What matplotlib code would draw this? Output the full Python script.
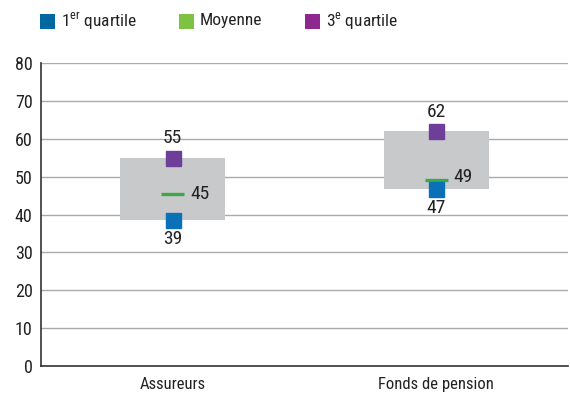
import matplotlib
matplotlib.use("Agg")
import matplotlib.pyplot as plt
from matplotlib import font_manager
from matplotlib.patches import Rectangle

entries = font_manager.fontManager.ttflist
names = {f.name for f in entries}
fam = "DejaVu Sans"
for cand in ["Liberation Sans Narrow", "Roboto Condensed", "Open Sans Condensed", "DejaVu Sans Condensed"]:
    if cand in names:
        fam = cand
        break
plt.rcParams['font.family'] = [fam, 'DejaVu Sans']

categories = ["Assureurs", "Fonds de pension"]
q1 = [38.6, 46.7]
mean = [45.3, 49.1]
q3 = [55.0, 62.0]
q1_labels = ["39", "47"]
mean_labels = ["45", "49"]
q3_labels = ["55", "62"]
yticks = [0, 10, 20, 30, 40, 50, 60, 70, 80]
legend_labels = ["1$^{\\mathregular{er}}$ quartile", "Moyenne", "3$^{\\mathregular{e}}$ quartile"]

c_blue = "#0a70b8"
c_green = "#3aaa48"
c_purple = "#6e3f98"
c_box = "#c8c9cb"
legend_colors = ["#0068a0", "#7dc242", "#8e278f"]
txt = "#222222"

W, H = 570, 394
fig = plt.figure(figsize=(W / 100, H / 100), dpi=100)
ax = fig.add_axes([41 / W, 28 / H, 527 / W, 303 / H])

x = list(range(len(categories)))
for i in x:
    ax.bar(i, q3[i] - q1[i], bottom=q1[i], width=0.4, color=c_box, zorder=2)
    ax.plot([i - 0.043, i + 0.043], [mean[i], mean[i]], color=c_green, lw=2.4, zorder=3, solid_capstyle='butt')
    ax.plot(i, q1[i], marker='s', ms=10.8, color=c_blue, mec=c_blue, zorder=4, ls='none')
    ax.plot(i, q3[i], marker='s', ms=10.8, color=c_purple, mec=c_purple, zorder=4, ls='none')
    ax.annotate(q3_labels[i], (i, q3[i]), xytext=(0, 10.5), textcoords='offset points',
                ha='center', va='baseline', fontsize=14, color=txt)
    ax.annotate(q1_labels[i], (i, q1[i]), xytext=(0, -7), textcoords='offset points',
                ha='center', va='top', fontsize=14, color=txt)
    ax.annotate(mean_labels[i], (i + 0.043, mean[i]), xytext=(4.5, 0 if i == 0 else 2), textcoords='offset points',
                ha='left', va='center', fontsize=14, color=txt)

ax.set_xlim(-0.5, 1.5)
ax.set_ylim(0, 80)
ax.set_yticks(yticks)
ax.set_xticks(x)
ax.set_xticklabels(categories, fontsize=12, color=txt)
ax.tick_params(axis='y', labelsize=13, length=0, pad=6, labelcolor=txt)
ax.tick_params(axis='x', length=0, pad=8)
ax.yaxis.grid(True, color='#aaaaaa', lw=1)
ax.set_axisbelow(True)
for s in ['top', 'right']:
    ax.spines[s].set_visible(False)
for s in ['left', 'bottom']:
    ax.spines[s].set_color('#333333')
    ax.spines[s].set_linewidth(1.2)

# legend drawn manually in pixel positions
leg_x = [40, 179, 305]
for lx, col, lab in zip(leg_x, legend_colors, legend_labels):
    fig.add_artist(Rectangle((lx / W, 1 - 29 / H), 14.5 / W, 15.5 / H, transform=fig.transFigure,
                             color=col, lw=0))
    fig.text((lx + 21) / W, 1 - 21 / H, lab, fontsize=12.5, color=txt, ha='left', va='center')

fig.savefig("out.png", dpi=100)
